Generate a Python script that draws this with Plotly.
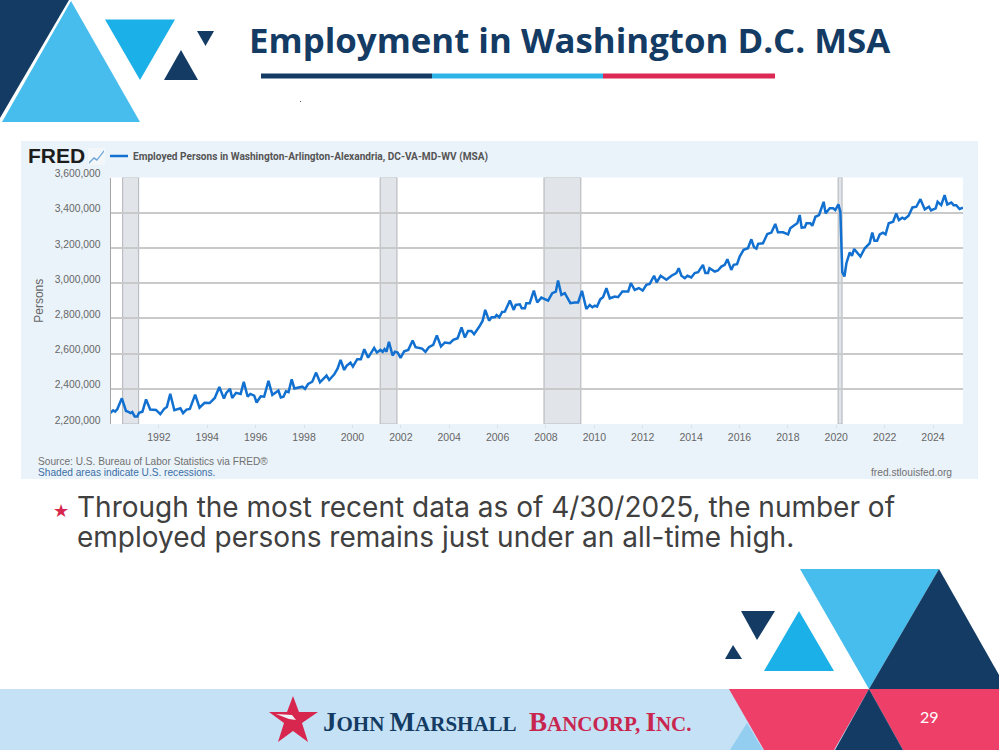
import numpy as np
import plotly.graph_objects as go

# Employed persons (decimal year, thousands of persons)
years = [
 1990.00,1990.11,1990.19,1990.28,1990.47,1990.64,1990.72,1990.83,1990.90,1991.00,1991.11,1991.18,1991.32,1991.47,1991.64,1991.88,
 1992.06,1992.22,1992.33,1992.47,1992.64,1992.89,1993.00,1993.14,1993.28,1993.50,1993.68,1993.89,1994.10,1994.31,1994.50,1994.69,
 1994.78,1994.94,1995.03,1995.19,1995.38,1995.51,1995.67,1995.78,1995.94,1996.04,1996.21,1996.35,1996.53,1996.69,1996.94,1997.04,
 1997.15,1997.25,1997.36,
 1997.49,1997.60,1997.83,1997.93,1998.04,1998.17,1998.34,1998.50,1998.66,1998.93,1999.04,1999.25,1999.39,1999.51,1999.66,1999.76,
 1999.92,2000.02,2000.20,2000.35,2000.49,2000.65,2000.90,2001.01,2001.16,2001.25,2001.33,2001.41,2001.51,2001.66,2001.76,2001.87,
 2001.99,2002.14,2002.31,2002.49,2002.61,2002.88,2003.02,2003.16,2003.34,2003.49,2003.66,2003.82,2004.03,2004.17,2004.35,2004.51,
 2004.65,2004.78,2004.92,2005.03,2005.24,2005.38,2005.49,2005.65,2005.75,2005.89,2005.96,2006.07,2006.19,2006.30,2006.51,2006.67,
 2006.75,2006.92,2007.00,2007.13,2007.19,2007.33,2007.50,2007.64,2007.81,2008.09,2008.26,2008.41,2008.50,2008.64,2008.78,2009.01,
 2009.19,2009.33,2009.49,2009.67,2009.81,2009.92,2010.02,2010.11,2010.25,2010.36,2010.50,2010.64,2010.85,2010.98,2011.16,2011.40,2011.51,
 2011.67,2011.84,2012.00,2012.15,2012.29,2012.47,2012.58,2012.74,2012.98,2013.19,2013.39,2013.49,2013.60,2013.74,2013.85,2014.01,
 2014.15,2014.29,2014.49,2014.59,2014.70,2014.76,2014.98,2015.11,2015.25,2015.39,2015.50,2015.66,2015.76,2015.90,2016.01,2016.17,
 2016.35,2016.49,2016.60,2016.70,2016.77,2016.97,2017.15,2017.32,2017.48,2017.59,2017.80,2018.01,2018.10,2018.28,2018.39,2018.49,
 2018.57,2018.70,2018.77,2018.93,2019.01,2019.14,2019.29,2019.48,2019.56,2019.73,2019.87,2019.96,2020.09,2020.17,2020.25,2020.34,
 2020.42,2020.56,2020.65,2020.74,2021.00,2021.18,2021.38,2021.49,2021.58,2021.69,2021.80,2021.93,2022.04,2022.17,2022.35,2022.48,
 2022.59,2022.73,2022.83,2022.99,2023.15,2023.31,2023.48,2023.66,2023.83,2023.92,2024.11,2024.19,2024.34,2024.48,2024.59,2024.76,
 2024.85,2024.96,2025.10,2025.24,
]
employed_k = [
 2264,2278,2270,2284,2346,2274,2270,2262,2268,2243,2243,2264,2270,2340,2282,2280,
 2256,2286,2297,2371,2278,2289,2262,2282,2286,2367,2293,2320,2319,2348,2410,2344,
 2375,2400,2348,2377,2371,2439,2355,2371,2361,2322,2357,2355,2445,2365,2390,2351,
 2355,2386,2381,
 2454,2402,2408,2412,2399,2427,2440,2492,2437,2475,2450,2482,2516,2564,2507,2530,
 2549,2526,2568,2568,2625,2577,2632,2606,2621,2610,2625,2611,2667,2589,2611,2606,
 2575,2613,2621,2674,2636,2628,2610,2636,2649,2703,2640,2663,2659,2678,2687,2748,
 2691,2728,2728,2710,2752,2785,2848,2787,2806,2806,2819,2806,2836,2838,2901,2848,
 2876,2880,2857,2857,2886,2886,2958,2890,2918,2901,2943,2952,3015,2933,2943,2886,
 2890,2890,2956,2853,2876,2863,2872,2867,2909,2920,2971,2914,2924,2920,2952,2952,3000,
 2962,2972,2958,2991,2996,3042,3004,3042,3019,3042,3057,3085,3042,3028,3042,3032,
 3057,3062,3104,3057,3057,3085,3066,3072,3094,3104,3136,3075,3104,3108,3151,3189,
 3198,3249,3204,3196,3223,3226,3279,3287,3336,3289,3289,3277,3311,3330,3340,3387,
 3315,3317,3340,3340,3326,3377,3387,3462,3396,3425,3425,3415,3447,3406,3062,3038,
 3113,3175,3155,3194,3151,3198,3226,3287,3241,3241,3277,3287,3277,3340,3349,3396,
 3358,3372,3364,3383,3430,3434,3477,3419,3434,3413,3425,3462,3443,3500,3447,3458,
 3443,3443,3421,3428,
]
recession_starts = [1990.50, 2001.15, 2007.92, 2020.08]
recession_ends   = [1991.16, 2001.84, 2009.44, 2020.24]
y_ticks  = [2200000,2400000,2600000,2800000,3000000,3200000,3400000,3600000]
y_labels = ["2,200,000","2,400,000","2,600,000","2,800,000","3,000,000","3,200,000","3,400,000","3,600,000"]
x_ticks  = list(range(1992, 2025, 2))
x_labels = [str(v) for v in x_ticks]

NAVY="#133b63"; BLUE="#1cb0e8"; SKY="#46bdec"; RED="#ee3f68"
W, H = 999, 750

def px(x): return x / W
def py(y): return 1 - y / H

def poly(points, color):
    d = "M" + " L".join(f"{px(a):.5f},{py(b):.5f}" for a, b in points) + " Z"
    return dict(type="path", path=d, xref="paper", yref="paper", fillcolor=color,
                line=dict(width=0), layer="below")

def rect(x0, y0, x1, y1, color):
    return dict(type="rect", xref="paper", yref="paper", x0=px(x0), x1=px(x1), y0=py(y1), y1=py(y0),
                fillcolor=color, line=dict(width=0), layer="below")

def text(x, y, s, size, color, family="Liberation Sans", anchor="left", **kw):
    return dict(x=px(x), y=py(y), xref="paper", yref="paper", text=s, showarrow=False,
                xanchor=anchor, yanchor="middle", font=dict(size=size, color=color, family=family),
                borderpad=0, **kw)

shapes = [
    rect(21, 141, 978, 479, "#ebf3fa"),
    rect(110.5, 177.5, 963, 424, "#ffffff"),
    poly([(0,0),(69,0),(0,118)], NAVY),
    poly([(71,1),(2,122),(140,122)], SKY),
    poly([(105,19.5),(175,19.5),(140,80)], BLUE),
    poly([(181,50),(164,80),(198,80)], NAVY),
    poly([(197,31),(214,31),(205.5,46)], NAVY),
    rect(261, 73.5, 432, 78.5, NAVY),
    rect(432, 73.5, 603, 78.5, "#2cb4e9"),
    rect(603, 73.5, 775, 78.5, "#dd2a55"),
    rect(300, 101, 301, 102, "#555555"),
    # FRED icon
    rect(88, 148, 105, 165, "#f4f7fa"),
    poly([(89,162),(94,157),(97,159),(104,150),(104,152),(97,161),(94,159),(89,164)], "#6fa8d8"),
    # lower right
    rect(0, 689, 999, 750, "#c5e1f5"),
    poly([(800,569),(939,569),(869,689)], SKY),
    poly([(939,569),(869,689),(999,689),(999,675)], NAVY),
    poly([(729,689),(869,689),(834,750),(764,750)], RED),
    poly([(869,689),(999,689),(999,750),(903,750)], RED),
    poly([(869,689),(835,750),(903,750)], NAVY),
    poly([(747,723),(730,750),(763,750)], "#93cdf0"),
    poly([(799,611),(764,671),(834,671)], BLUE),
    poly([(741,611),(775,611),(757,640)], NAVY),
    poly([(733,645),(725,659),(742,659)], NAVY),
    # star
    poly([(293,696),(299,712),(318,712),(302,723),(308,742),(293,731),(278,742),(284,723),(269,712),(287,712)], "#d8274f"),
    poly([(276,714),(292,715),(296,720),(289,719)], "#eef3f8"),
]
for s, e in zip(recession_starts, recession_ends):
    shapes.append(dict(type="rect", xref="x", yref="y", x0=s, x1=e, y0=y_ticks[0], y1=y_ticks[-1],
                       fillcolor="#e1e5ea", line=dict(color="#b9bcc0", width=1.2), layer="below"))
# legend key of the FRED chart
shapes.append(dict(type="line", xref="paper", yref="paper", x0=px(110), x1=px(128), y0=py(156), y1=py(156),
                   line=dict(color="#1170d0", width=2.5)))

def caps(a, b, little):
    return a + f'<span style="font-size:{little}px">{b}</span>'
logo1 = "<b>" + caps("J", "OHN ", 21) + caps("M", "ARSHALL", 21) + "</b>"
logo2 = "<b>" + caps("B", "ANCORP, ", 21) + caps("I", "NC.", 21) + "</b>"

annotations = [
    text(248, 39, "<b>Employment in Washington D.C. MSA</b>", 34.8, NAVY, "Open Sans"),
    text(27, 156, "<b>FRED</b>", 21, "#1c1c1c", "Liberation Sans"),
    text(132, 156.5, "<b>Employed Persons in Washington-Arlington-Alexandria, DC-VA-MD-WV (MSA)</b>", 10.1, "#555555", "Roboto"),
    text(37, 461, "Source: U.S. Bureau of Labor Statistics via FRED®", 10.15, "#707070"),
    text(37, 472, "Shaded areas indicate U.S. recessions.", 10.15, "#3a6ea5"),
    text(953, 472, "fred.stlouisfed.org", 10.2, "#707070", anchor="right"),
    text(52, 510, "★", 18, "#d8274f", "DejaVu Sans"),
    text(76, 507, "Through the most recent data as of 4/30/2025, the number of", 28, "#404040", "Inter"),
    text(76, 537, "employed persons remains just under an all-time high.", 28, "#404040", "Inter"),
    text(929, 716, "29", 16, "#ffffff", "Lato", anchor="center"),
    text(322, 722, logo1, 27, NAVY, "Liberation Serif"),
    text(528, 722, logo2, 27, "#c8264f", "Liberation Serif"),
]

fig = go.Figure(go.Scatter(
    x=years, y=np.array(employed_k) * 1000, mode="lines",
    line=dict(color="#1170d0", width=2.5), hoverinfo="skip", showlegend=False))

fig.update_layout(
    width=W, height=H, margin=dict(l=0, r=0, t=0, b=0, autoexpand=False),
    paper_bgcolor="#ffffff", plot_bgcolor="#ffffff",
    shapes=shapes, annotations=annotations, showlegend=False,
    xaxis=dict(domain=[px(110.5), px(963)], range=[1990, 2025.24], tickmode="array",
               tickvals=x_ticks, ticktext=x_labels, showgrid=False, zeroline=False, automargin=False,
               showline=False, ticks="outside", ticklen=3, tickcolor="#d5e0ec", tickwidth=1,
               tickfont=dict(family="Liberation Sans", size=10.5, color="#666666")),
    yaxis=dict(domain=[py(424), py(177.5)], range=[y_ticks[0], y_ticks[-1]], tickmode="array",
               tickvals=y_ticks, ticktext=y_labels, showgrid=True, gridcolor="#c9c9c9", gridwidth=1.5,
               zeroline=False, showline=True, linecolor="#a5a5a5", linewidth=1, ticks="", automargin=False,
               ticklabelstandoff=7, ticklabelshift=-4,
               tickfont=dict(family="Liberation Sans", size=10.3, color="#666666"),
               title=dict(text="Persons", standoff=8,
                          font=dict(family="Liberation Sans", size=12, color="#666666"))),
)
fig.write_html("out.html", config=dict(displayModeBar=False),
               post_script="document.body.style.margin='0';document.body.style.overflow='hidden';")
